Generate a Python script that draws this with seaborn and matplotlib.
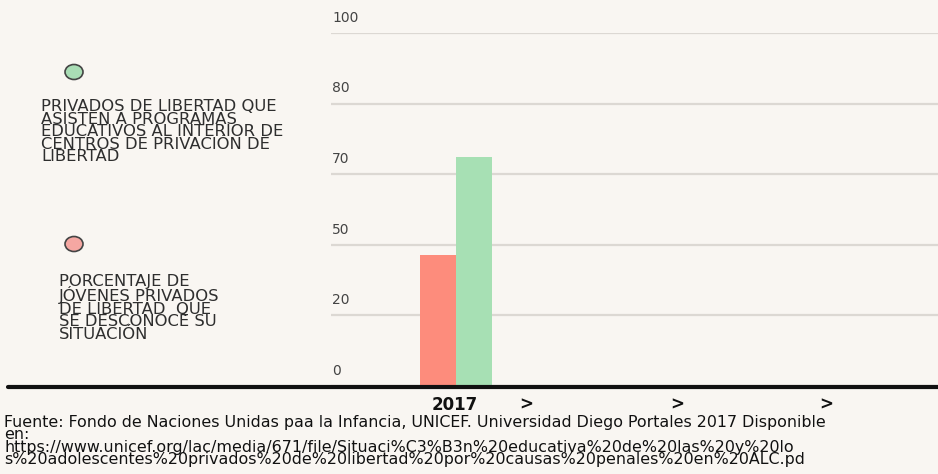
import pandas as pd
import matplotlib.pyplot as plt
import seaborn as sns
from matplotlib.patches import Ellipse
from matplotlib.lines import Line2D
import matplotlib.transforms as mtransforms

# datos
years = ["2017"]
series = [
    "PORCENTAJE DE\nJÓVENES PRIVADOS\nDE LIBERTAD  QUE\nSE DESCONOCE SU\nSITUACIÓN",
    "PRIVADOS DE LIBERTAD QUE\nASISTEN A PROGRAMAS\nEDUCATIVOS AL INTERIOR DE\nCENTROS DE PRIVACIÓN DE\nLIBERTAD",
]
values_unknown = [37]
values_edu = [65]
tick_values = [0, 20, 40, 60, 80, 100]
tick_labels = ["0", "20", "50", "70", "80", "100"]
arrows = [">", ">", ">"]
source = ("Fuente: Fondo de Naciones Unidas paa la Infancia, UNICEF. Universidad Diego Portales 2017 Disponible\n"
          "en:\n"
          "https://www.unicef.org/lac/media/671/file/Situaci%C3%B3n%20educativa%20de%20las%20y%20lo\n"
          "s%20adolescentes%20privados%20de%20libertad%20por%20causas%20penales%20en%20ALC.pd")

colors = ["#fd8c7c", "#a7e0b4"]
legend_fill = ["#f5a7a2", "#a9ddb5"]
bg = "#f9f6f2"

df = pd.DataFrame({
    "year": years * 2,
    "serie": [series[0]] * len(years) + [series[1]] * len(years),
    "valor": values_unknown + values_edu,
})

sns.set_style("white")
plt.rcParams["font.family"] = ["DejaVu Sans"]

fig = plt.figure(figsize=(9.38, 4.74), dpi=100, facecolor=bg)
ax = fig.add_axes([331 / 938, 1 - 386 / 474, 607 / 938, 353 / 474])
ax.set_facecolor(bg)

sns.barplot(data=df, x="year", y="valor", hue="serie", hue_order=series,
            palette=colors, width=0.8, saturation=1, legend=False, ax=ax,
            linewidth=0, zorder=3)

ax.set_ylim(0, 100)
ax.set_xlim(-1.39, 5.35)
ax.set_yticks(tick_values)
ax.set_yticklabels([])
ax.set_xticks([])
ax.set_xlabel("")
ax.set_ylabel("")
ax.yaxis.grid(True, color="#dcd8d3", linewidth=1.6, zorder=0)
ax.set_axisbelow(True)
for s in ax.spines.values():
    s.set_visible(False)
ax.tick_params(left=False, bottom=False)

# etiquetas del eje y sobre las lineas
trans = mtransforms.blended_transform_factory(ax.transAxes, ax.transData)
for v, lab in zip(tick_values, tick_labels):
    ax.text(0.002, v + 2.3, lab, transform=trans, ha="left", va="bottom",
            fontsize=10, color="#444444", clip_on=False)

# linea base
fig.add_artist(Line2D([8 / 938, 1], [1 - 387 / 474] * 2, color="#111111", linewidth=3,
                      transform=fig.transFigure))

# leyenda manual
for fill, cy in zip(legend_fill, [244, 72]):
    fig.add_artist(Ellipse((74 / 938, 1 - cy / 474), 18 / 938, 15 / 474,
                           facecolor=fill, edgecolor="#444444", linewidth=1.2,
                           transform=fig.transFigure))
fig.text(59 / 938, 1 - 274 / 474, series[0], ha="left", va="top", fontsize=11.8,
         color="#2e2e2e", linespacing=0.8)
fig.text(41 / 938, 1 - 99 / 474, series[1], ha="left", va="top", fontsize=11.8,
         color="#2e2e2e", linespacing=0.8)

# eje x
fig.text(455 / 938, 1 - 405 / 474, years[0], ha="center", va="center", fontsize=12,
         color="#111111", fontweight="bold")
for x, a in zip([526, 677, 826], arrows):
    fig.text(x / 938, 1 - 405 / 474, a, ha="center", va="center", fontsize=12,
             color="#111111", fontweight="bold")

fig.text(4 / 938, 1 - 415 / 474, source, ha="left", va="top", fontsize=11.4,
         color="#111111", linespacing=0.79)

fig.savefig("out.png", dpi=100, facecolor=bg)
